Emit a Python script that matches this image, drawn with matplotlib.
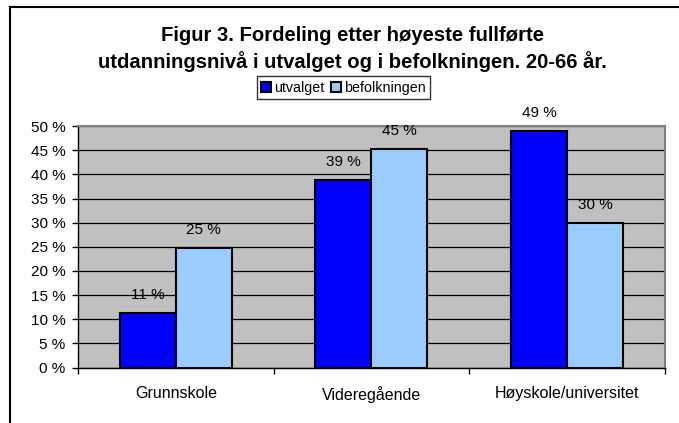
import numpy as np
import matplotlib
matplotlib.use("Agg")
import matplotlib.pyplot as plt
from matplotlib.lines import Line2D
from matplotlib.ticker import FuncFormatter

plt.rcParams['font.family'] = ['Liberation Sans', 'DejaVu Sans']

# data (percent)
categories = ['Grunnskole', 'Videregående', 'Høyskole/universitet']
utvalget = [11.2, 38.8, 48.9]
befolkningen = [24.8, 45.2, 29.9]
series_names = ['utvalget', 'befolkningen']
yticks = [0, 5, 10, 15, 20, 25, 30, 35, 40, 45, 50]

fig = plt.figure(figsize=(6.79, 4.23), dpi=100)
ax = fig.add_axes([0.115, 0.131, 0.864, 0.571])
ax.set_facecolor('#C0C0C0')

x = np.arange(len(categories))
w = 0.286
b1 = ax.bar(x - w / 2, utvalget, w, color='#0000FF', edgecolor='black', linewidth=1.5, zorder=3, label=series_names[0])
b2 = ax.bar(x + w / 2, befolkningen, w, color='#99CCFF', edgecolor='black', linewidth=1.5, zorder=3, label=series_names[1])

# value labels above bars
for bars in (b1, b2):
    for r in bars:
        ax.annotate('%.0f %%' % r.get_height(), (r.get_x() + r.get_width() / 2, r.get_height()),
                    xytext=(0, 13), textcoords='offset points', ha='center', va='center', fontsize=11)

ax.set_xlim(-0.5, 2.5)
ax.set_ylim(0, 50)
ax.set_yticks(yticks)
ax.yaxis.set_major_formatter(FuncFormatter(lambda v, p: '%d %%' % v))
ax.grid(axis='y', color='black', linewidth=0.9, zorder=1)
ax.set_axisbelow(True)

ax.set_xticks(x)
ax.set_xticklabels(categories, fontsize=11.5)
ax.set_xticks([-0.5, 0.5, 1.5, 2.5], minor=True)
ax.tick_params(axis='x', which='major', length=0, pad=13)
ax.tick_params(axis='x', which='minor', length=4, direction='out', width=1)
ax.tick_params(axis='y', labelsize=11, length=4, width=1, pad=5)

for s in ['top', 'right']:
    ax.spines[s].set_color('#808080')
    ax.spines[s].set_linewidth(1.5)
for s in ['left', 'bottom']:
    ax.spines[s].set_color('black')
    ax.spines[s].set_linewidth(1)

fig.text(0.519, 0.884, 'Figur 3. Fordeling etter høyeste fullførte\nutdanningsnivå i utvalget og i befolkningen. 20-66 år.',
         ha='center', va='center', fontsize=14.6, fontweight='bold', linespacing=1.35)

leg = fig.legend(handles=[b1, b2], loc='center', bbox_to_anchor=(0.506, 0.793), ncol=2, fontsize=10.3,
                 frameon=True, fancybox=False, edgecolor='black', handlelength=0.7, handleheight=0.7,
                 handletextpad=0.2, columnspacing=0.5, borderpad=0.3, borderaxespad=0)
leg.get_frame().set_linewidth(1)

# chart area border (left and top visible)
fig.add_artist(Line2D([10 / 679, 10 / 679], [0, 1 - 7 / 423], transform=fig.transFigure, color='black', linewidth=1.5))
fig.add_artist(Line2D([10 / 679, 1], [1 - 7 / 423, 1 - 7 / 423], transform=fig.transFigure, color='black', linewidth=1.5))

fig.savefig('out.png', dpi=100)
